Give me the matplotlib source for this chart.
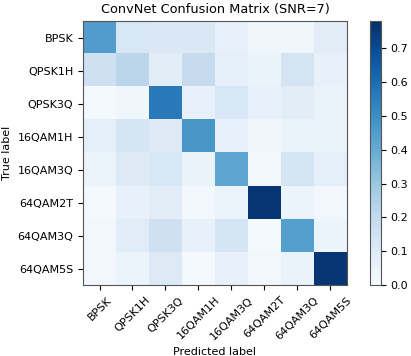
import numpy as np
import matplotlib
matplotlib.use("Agg")
import matplotlib.pyplot as plt

classes = ["BPSK", "QPSK1H", "QPSK3Q", "16QAM1H", "16QAM3Q", "64QAM2T", "64QAM3Q", "64QAM5S"]

# rows = true label, cols = predicted label
cm = np.array([
    [0.45, 0.12, 0.11, 0.11, 0.06, 0.03, 0.03, 0.08],
    [0.16, 0.22, 0.08, 0.19, 0.07, 0.05, 0.14, 0.06],
    [0.01, 0.03, 0.56, 0.06, 0.12, 0.06, 0.08, 0.05],
    [0.07, 0.13, 0.10, 0.47, 0.06, 0.03, 0.05, 0.05],
    [0.04, 0.10, 0.12, 0.05, 0.42, 0.02, 0.13, 0.07],
    [0.01, 0.06, 0.08, 0.02, 0.04, 0.76, 0.04, 0.02],
    [0.02, 0.09, 0.16, 0.06, 0.13, 0.01, 0.44, 0.04],
    [0.02, 0.04, 0.10, 0.01, 0.06, 0.02, 0.05, 0.76],
])

fig = plt.figure(figsize=(4.11, 3.56), dpi=100)
ax = fig.add_axes([0.202, 0.199, 0.642, 0.742])
cax = fig.add_axes([0.900, 0.199, 0.027, 0.742])

im = ax.imshow(cm, interpolation="nearest", cmap=plt.cm.Blues, vmin=0, vmax=0.78, aspect="auto")
ax.set_title("ConvNet Confusion Matrix (SNR=7)", fontsize=9.3)
cb = fig.colorbar(im, cax=cax)
cb.set_ticks(np.arange(0, 0.8, 0.1))
cb.ax.tick_params(labelsize=8)

ticks = np.arange(len(classes))
ax.set_xticks(ticks)
ax.set_xticklabels(classes, rotation=45, fontsize=8)
ax.set_yticks(ticks)
ax.set_yticklabels(classes, fontsize=8)
ax.set_ylabel("True label", fontsize=8)
ax.set_xlabel("Predicted label", fontsize=8)

for sp in ax.spines.values():
    sp.set_color("#555555")
cb.outline.set_edgecolor("#555555")

fig.savefig("out.png", dpi=100)
